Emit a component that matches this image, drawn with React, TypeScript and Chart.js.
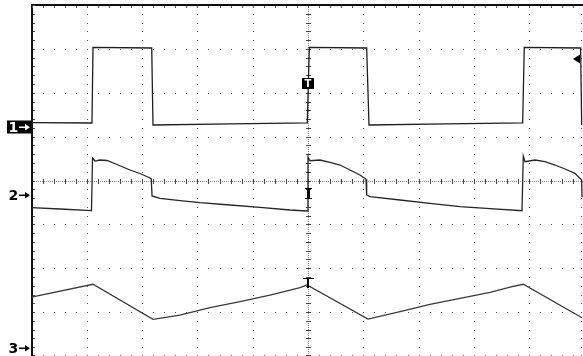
import React, { useEffect, useRef } from "react";
import { Chart, registerables } from "chart.js";
Chart.register(...registerables);

// Time axis in divisions (10 div across), amplitude in divisions (8 div tall, 0 = centre)
const ch1T = [0, 1.094, 1.112, 2.174, 2.197, 3.6, 4.987, 5.024, 6.061, 6.103, 7.5, 8.882, 8.911, 9.93, 9.949];
const ch1V = [1.317, 1.311, 3.036, 3.02, 1.265, 1.29, 1.311, 3.036, 3.02, 1.265, 1.29, 1.311, 3.036, 3.02, 1.265];

const ch2T = [0, 0.515, 1.085, 1.103, 1.148, 1.239, 1.365, 1.546, 1.781, 1.962, 2.143, 2.165, 2.18, 2.324, 2.685, 3.047, 3.59, 4.132, 4.675, 4.982, 5.0, 5.036, 5.217, 5.398, 5.579, 5.759, 5.94, 6.049, 6.061, 6.121, 6.664, 7.206, 7.749, 8.291, 8.87, 8.893, 8.924, 9.105, 9.286, 9.467, 9.647, 9.828, 9.949, 9.955];
const ch2V = [-0.62, -0.65, -0.688, 0.513, 0.444, 0.467, 0.456, 0.365, 0.239, 0.16, 0.057, 0.04, -0.353, -0.406, -0.46, -0.506, -0.558, -0.611, -0.672, -0.695, 0.536, 0.451, 0.467, 0.415, 0.353, 0.239, 0.125, 0.027, -0.33, -0.369, -0.444, -0.52, -0.597, -0.643, -0.688, 0.558, 0.428, 0.467, 0.428, 0.353, 0.262, 0.164, 0.011, -0.38];

const ch3T = [0, 1.112, 2.197, 2.685, 3.228, 3.77, 4.313, 4.855, 4.982, 6.085, 6.664, 7.206, 7.749, 8.291, 8.689, 8.893, 9.955];
const ch3V = [-2.66, -2.366, -3.164, -3.066, -2.899, -2.762, -2.61, -2.443, -2.382, -3.157, -2.99, -2.822, -2.685, -2.548, -2.42, -2.366, -3.127];

const channelLabels = ["1", "2", "3"];
const channelZero = [1.21, -0.33, -3.82];
const triggerT = 5.0;
const triggerMarkY = 2.21;
const ch2LevelY = -0.17;
const ch3LevelY = -2.23;
const posMarkY = 2.77;

const toPts = (t: number[], v: number[]) => t.map((x, i) => ({ x, y: v[i] }));

export default function App() {
  const ref = useRef<HTMLCanvasElement>(null);
  useEffect(() => {
    document.body.style.margin = "0";
    const graticule = {
      id: "graticule",
      beforeDatasetsDraw(chart: any) {
        const ctx = chart.ctx as CanvasRenderingContext2D;
        const xs = chart.scales.x, ys = chart.scales.y;
        const W = chart.width, H = chart.height;
        const px = (v: number) => Math.min(Math.round(xs.getPixelForValue(v)), W - 2);
        const py = (v: number) => Math.min(Math.round(ys.getPixelForValue(v)), H - 1);
        const top = py(4), left = px(0);
        ctx.save();
        ctx.fillStyle = "#5a5a5a";
        for (let i = 1; i <= 10; i++) {
          if (i === 5) continue;
          const x = px(i);
          for (let k = 0; k <= 40; k++) ctx.fillRect(x, py(-4 + k * 0.2), 1, 1);
        }
        for (let j = -4; j <= 3; j++) {
          if (j === 0) continue;
          const y = py(j);
          for (let k = 0; k <= 50; k++) {
            const xv = k * 0.2;
            if (xs.getPixelForValue(xv) > W) break;
            ctx.fillRect(px(xv), y, 1, 1);
          }
        }
        const cx = px(5), cy = py(0);
        ctx.fillStyle = "#8a8a8a";
        for (let y = top; y < H; y += 2) ctx.fillRect(cx, y, 1, 1);
        for (let x = left; x < W; x += 2) ctx.fillRect(x, cy, 1, 1);
        ctx.fillStyle = "#444";
        for (let k = 0; k <= 40; k++) ctx.fillRect(cx - 2, py(-4 + k * 0.2), 5, 1);
        for (let k = 0; k <= 50; k++) {
          const xv = k * 0.2;
          if (xs.getPixelForValue(xv) > W) break;
          ctx.fillRect(px(xv), cy - 2, 1, 5);
        }
        ctx.fillStyle = "#111";
        ctx.fillRect(left - 1, top, 2, H - top);
        ctx.fillRect(left - 1, top - 1, W - left + 1, 2);
        ctx.fillStyle = "#555";
        for (let k = 0; k <= 40; k++) ctx.fillRect(left + 1, py(-4 + k * 0.2), 2, 1);
        for (let k = 0; k <= 50; k++) {
          const xv = k * 0.2;
          if (xs.getPixelForValue(xv) > W) break;
          ctx.fillRect(px(xv), top + 1, 1, 2);
        }
        ctx.restore();
      },
    };
    const markers = {
      id: "markers",
      afterDatasetsDraw(chart: any) {
        const ctx = chart.ctx as CanvasRenderingContext2D;
        const xs = chart.scales.x, ys = chart.scales.y;
        const py = (v: number) => ys.getPixelForValue(v);
        const px = (v: number) => xs.getPixelForValue(v);
        ctx.save();
        ctx.font = "bold 14px 'DejaVu Sans'";
        ctx.textBaseline = "middle";
        ctx.textAlign = "left";
        channelLabels.forEach((lab, i) => {
          const y = Math.round(py(channelZero[i]));
          const fg = i === 0 ? "#fff" : "#000";
          if (i === 0) {
            ctx.fillStyle = "#000";
            ctx.fillRect(7, y - 6.5, 24, 13);
          }
          ctx.fillStyle = fg;
          ctx.fillText(lab, 8.5, y + 1);
          ctx.fillRect(19, y - 0.5, 7, 1.5);
          ctx.beginPath();
          ctx.moveTo(30, y + 0.25);
          ctx.lineTo(25, y - 3);
          ctx.lineTo(25, y + 3.5);
          ctx.closePath();
          ctx.fill();
        });
        const tx = Math.round(px(triggerT));
        const ty = Math.round(py(triggerMarkY));
        ctx.fillStyle = "#000";
        ctx.fillRect(tx - 6, ty - 6, 12, 11);
        ctx.fillStyle = "#fff";
        ctx.font = "bold 10px 'DejaVu Sans'";
        ctx.textAlign = "center";
        ctx.fillText("T", tx, ty);
        const my = py(posMarkY);
        ctx.fillStyle = "#000";
        ctx.beginPath();
        ctx.moveTo(573, my);
        ctx.lineTo(580, my - 4.5);
        ctx.lineTo(580, my + 4.5);
        ctx.closePath();
        ctx.fill();
        const y2 = Math.round(py(ch2LevelY));
        ctx.fillRect(tx - 1, y2, 3, 11);
        ctx.fillRect(tx - 3, y2, 7, 1);
        ctx.fillRect(tx - 3, y2 + 10, 7, 1);
        const y3 = Math.round(py(ch3LevelY));
        ctx.fillRect(tx - 5, y3, 11, 1);
        ctx.fillRect(tx - 1, y3, 2, 10);
        ctx.restore();
      },
    };
    const ds = (t: number[], v: number[], c: string) => ({
      data: toPts(t, v),
      borderColor: c,
      borderWidth: 1.3,
      pointRadius: 0,
      tension: 0,
      fill: false,
    });
    const chart = new Chart(ref.current!, {
      type: "line",
      data: {
        datasets: [
          ds(ch1T, ch1V, "#1e1e1e"),
          ds(ch2T, ch2V, "#262626"),
          ds(ch3T, ch3V, "#3a3a3a"),
        ],
      },
      options: {
        responsive: false,
        maintainAspectRatio: false,
        animation: false,
        events: [],
        layout: { padding: { left: 31.5, top: 5, right: 0, bottom: 0 } },
        scales: {
          x: { type: "linear", min: 0, max: 9.973, display: false },
          y: { type: "linear", min: -4, max: 4, display: false },
        },
        plugins: { legend: { display: false }, tooltip: { enabled: false } },
      },
      plugins: [graticule, markers],
    } as any);
    return () => chart.destroy();
  }, []);
  return (
    <div style={{ width: 583, height: 356, background: "#fff" }}>
      <canvas ref={ref} width={583} height={356} style={{ display: "block" }} />
    </div>
  );
}
